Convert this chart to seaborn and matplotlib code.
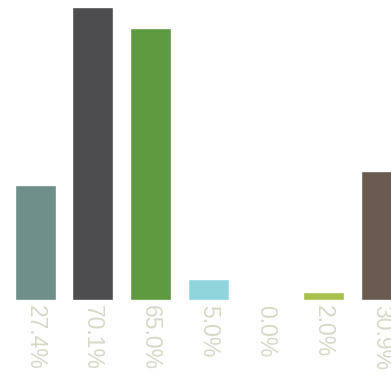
import matplotlib
matplotlib.use("Agg")
import matplotlib.pyplot as plt
import seaborn as sns
import pandas as pd

categories = ["A", "B", "C", "D", "E", "F", "G"]
values = [27.4, 70.1, 65.0, 5.0, 0.0, 2.0, 30.9]
labels = ["27.4%", "70.1%", "65.0%", "5.0%", "0.0%", "2.0%", "30.9%"]
colors = ["#6e8f8a", "#4d4d4f", "#5f9a40", "#90d4dc", "#ffffff", "#a8c04c", "#6b5a50"]

df = pd.DataFrame({"cat": categories, "val": values})

sns.set_style("white")
fig = plt.figure(figsize=(3.91, 3.77), dpi=100)
ax = fig.add_axes([0, 77 / 377, 1, 300 / 377])
sns.barplot(data=df, x="cat", y="val", hue="cat", palette=colors, dodge=False,
            legend=False, width=0.71, saturation=1, ax=ax)
ax.set_xlim(-0.607, -0.607 + 391 / 57.7)
ax.set_ylim(0, 300 / 4.18)
ax.axis("off")

for i, lab in enumerate(labels):
    ax.annotate(lab, xy=(i, 0), xycoords="data", xytext=(0, -5), textcoords="offset pixels",
                rotation=-90, ha="center", va="top", color="#d6d9c8", fontsize=16.5,
                family=["Liberation Sans", "DejaVu Sans"], annotation_clip=False)

fig.savefig("out.png", dpi=100)
